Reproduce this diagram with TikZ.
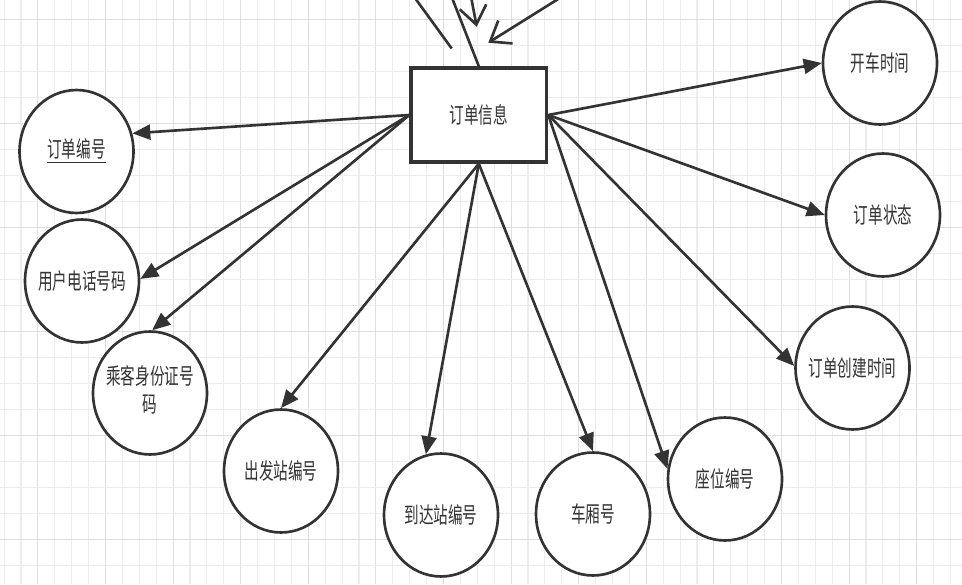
\documentclass[tikz,border=0pt]{standalone}
\usepackage{fontspec}
\newfontfamily\cjk{Noto Sans CJK SC}
\usetikzlibrary{shapes.geometric,arrows.meta}
\definecolor{ink}{HTML}{333333}
\newcommand{\tall}[1]{\makebox[0pt]{\scalebox{1}[1.53]{#1}}}

\begin{document}
\begin{tikzpicture}[x=0.02cm, y=-0.02cm, line width=1.5pt, color=ink,
        font=\cjk\fontsize{8.3}{10.5}\selectfont,
        attr/.style = {draw, ellipse, fill=white, minimum width=2.28cm, minimum height=2.46cm, inner sep=0pt, align=center},
        entity/.style = {draw, rectangle, fill=white, line width=2pt, minimum width=2.71cm, minimum height=1.88cm},
        link/.style = {-{Triangle[length=3.6mm, width=3mm]}},
        inlink/.style = {-{Straight Barb[length=3.6mm, width=5.4mm]}},
        minorgrid/.style = {line width=0.6pt, black!7},
        majorgrid/.style = {line width=0.6pt, black!13}]
    \useasboundingbox (0,0) rectangle (962,584);
    \clip (0,0) rectangle (962,584);
    \fill[white] (0,0) rectangle (962,584);
    \foreach \k in {-1,...,56} {
        \pgfmathtruncatemacro{\m}{mod(\k+40,4)}
        \ifnum\m=1 \draw[majorgrid] ({21+16.9*\k},0) -- ({21+16.9*\k},584);
        \else \draw[minorgrid] ({21+16.9*\k},0) -- ({21+16.9*\k},584); \fi
    }
    \foreach \k in {0,...,22} {
        \pgfmathtruncatemacro{\m}{mod(\k,4)}
        \ifnum\m=0 \draw[majorgrid] (0,{19.3+26*\k}) -- (962,{19.3+26*\k});
        \else \draw[minorgrid] (0,{19.3+26*\k}) -- (962,{19.3+26*\k}); \fi
    }

    \node[entity] (0) at (478.8,115) {\tall{订单信息}};
    \node[attr] (1) at (76.5,151.5) {\tall{\underline{订单编号}}};
    \node[attr] (2) at (82,281) {\tall{用户电话号码}};
    \node[attr] (3) at (150,393) {\tall{\begin{tabular}{@{}c@{}}乘客身份证号\\码\end{tabular}}};
    \node[attr] (4) at (281,471) {\tall{出发站编号}};
    \node[attr] (5) at (441,515) {\tall{到达站编号}};
    \node[attr] (6) at (593,514) {\tall{车厢号}};
    \node[attr] (7) at (725,479) {\tall{座位编号}};
    \node[attr] (8) at (880,63) {\tall{开车时间}};
    \node[attr] (9) at (883,215) {\tall{订单状态}};
    \node[attr] (10) at (852.5,368) {\tall{订单创建时间}};

    \coordinate (a1) at (413.5,-4);
    \coordinate (a2) at (451.7,48.5);
    \coordinate (b1) at (451.3,-4);
    \coordinate (c1) at (470.9,-4);
    \coordinate (c2) at (476.7,26.7);
    \coordinate (d1) at (563,-4);
    \coordinate (d2) at (488.3,42.7);

    \draw (a1) -- (a2);
    \draw (b1) -- (0.north);
    \draw[inlink] (c1) -- (c2);
    \draw[inlink] (d1) -- (d2);

    \draw[link] (0.west) -- (1.18);
    \draw[link] (0.west) -- (2.2);
    \draw[link] (0.west) -- (3.88);
    \draw[link] (0.south) -- (4.north);
    \draw[link] (0.south) -- (5.104);
    \draw[link] (0.south) -- (6.north);
    \draw[link] (0.east) -- (7.170);
    \draw[link] (0.east) -- (8.west);
    \draw[link] (0.east) -- (9.west);
    \draw[link] (0.east) -- (10.178);
\end{tikzpicture}
\end{document}
